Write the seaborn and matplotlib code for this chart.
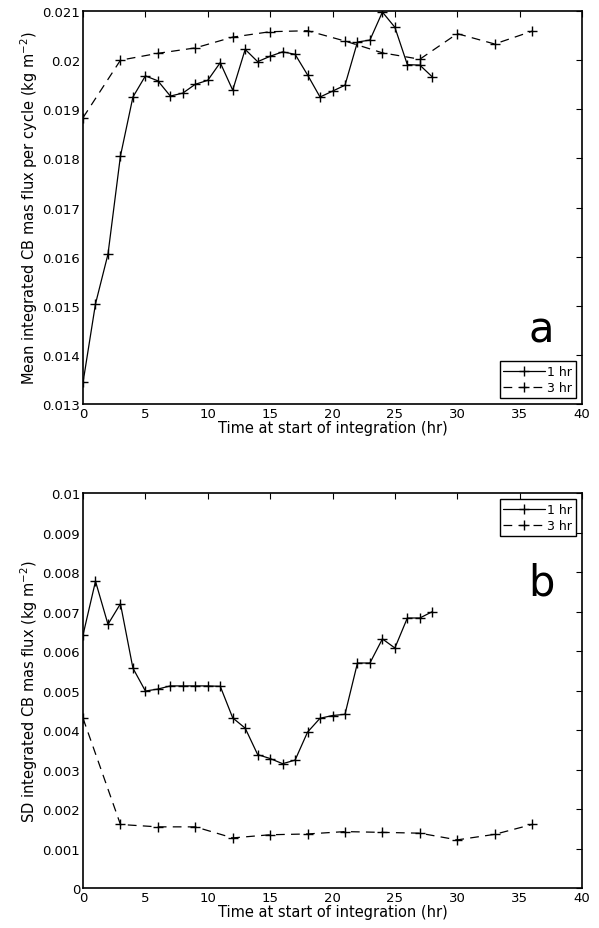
import matplotlib
matplotlib.use("Agg")
import matplotlib.pyplot as plt
import seaborn as sns
import pandas as pd
import numpy as np

# data
hours_1hr = list(range(29))
mean_1hr = [0.01344, 0.01504, 0.01605, 0.01805, 0.01925, 0.01968, 0.01958, 0.01927,
            0.01933, 0.01951, 0.01959, 0.01995, 0.01939, 0.02022, 0.01997, 0.02008,
            0.02017, 0.02012, 0.01970, 0.01925, 0.01937, 0.01949, 0.02037, 0.02041,
            0.02098, 0.02067, 0.01991, 0.01990, 0.01966]
sd_1hr = [0.00641, 0.00777, 0.00668, 0.00720, 0.00557, 0.00499, 0.00504, 0.00512,
          0.00512, 0.00512, 0.00512, 0.00511, 0.00431, 0.00405, 0.00338, 0.00328,
          0.00315, 0.00324, 0.00395, 0.00430, 0.00437, 0.00440, 0.00570, 0.00570,
          0.00631, 0.00608, 0.00684, 0.00684, 0.00700]

hours_3hr = [0, 3, 6, 9, 12, 15, 18, 21, 24, 27, 30, 33, 36]
mean_3hr = [0.01883, 0.02000, 0.02014, 0.02025, 0.02047, 0.02058, 0.02060, 0.02039,
            0.02015, 0.02002, 0.02054, 0.02033, 0.02059]
sd_3hr = [0.00430, 0.00161, 0.00155, 0.00155, 0.00127, 0.00135, 0.00137, 0.00143,
          0.00141, 0.00139, 0.00122, 0.00136, 0.00161]

xticks = [0, 5, 10, 15, 20, 25, 30, 35, 40]
yticks_a = [0.013, 0.014, 0.015, 0.016, 0.017, 0.018, 0.019, 0.020, 0.021]
ylabels_a = ['0.013', '0.014', '0.015', '0.016', '0.017', '0.018', '0.019', '0.02', '0.021']
yticks_b = [0.0, 0.001, 0.002, 0.003, 0.004, 0.005, 0.006, 0.007, 0.008, 0.009, 0.010]
ylabels_b = ['0', '0.001', '0.002', '0.003', '0.004', '0.005', '0.006', '0.007', '0.008', '0.009', '0.01']

sns.set_style("white")
plt.rcParams['font.family'] = ['DejaVu Sans']
plt.rcParams['mathtext.default'] = 'regular'
plt.rcParams['text.color'] = 'k'
plt.rcParams['axes.labelcolor'] = 'k'
plt.rcParams['xtick.color'] = 'k'
plt.rcParams['ytick.color'] = 'k'
plt.rcParams['lines.dashed_pattern'] = [7, 5]

fig = plt.figure(figsize=(5.99, 9.29), dpi=100)
ax1 = fig.add_axes([0.1386, 0.564, 0.833, 0.423])
ax2 = fig.add_axes([0.1386, 0.043, 0.833, 0.425])

df1 = pd.DataFrame({'t': hours_1hr, 'mean': mean_1hr, 'sd': sd_1hr})
df3 = pd.DataFrame({'t': hours_3hr, 'mean': mean_3hr, 'sd': sd_3hr})


def draw(ax, col, yticks, ylabels, ylim, ylabel, letter, letter_y, legend_loc):
    kw = dict(color='k', marker='+', markersize=7, markeredgewidth=1.0,
              markeredgecolor='k', markerfacecolor='k', linewidth=0.9)
    sns.lineplot(data=df1, x='t', y=col, ax=ax, label='1 hr', **kw)
    sns.lineplot(data=df3, x='t', y=col, ax=ax, linestyle='--', label='3 hr', **kw)
    ax.set_xlim(0, 40)
    ax.set_ylim(*ylim)
    ax.set_xticks(xticks)
    ax.set_xticklabels([str(t) for t in xticks], fontsize=9.5)
    ax.set_yticks(yticks)
    ax.set_yticklabels(ylabels, fontsize=9.5)
    ax.tick_params(direction='in', top=True, right=True, length=4, width=0.8, pad=2)
    for s in ax.spines.values():
        s.set_color('k')
        s.set_linewidth(1.2)
    ax.set_xlabel('Time at start of integration (hr)', fontsize=10.5, labelpad=0)
    ax.set_ylabel(ylabel, fontsize=10.5, labelpad=2)
    ax.text(0.918, letter_y, letter, transform=ax.transAxes, fontsize=30,
            ha='center', va='center')
    leg = ax.legend(loc=legend_loc, fontsize=9, handlelength=3.3, borderpad=0.3,
                    labelspacing=0.25, handletextpad=0.2, borderaxespad=0.5,
                    fancybox=False, framealpha=1)
    leg.get_frame().set_edgecolor('k')
    leg.get_frame().set_linewidth(1.0)


draw(ax1, 'mean', yticks_a, ylabels_a, (0.013, 0.021),
     'Mean integrated CB mas flux per cycle (kg m$^{-2}$)', 'a', 0.19, 'lower right')
draw(ax2, 'sd', yticks_b, ylabels_b, (0.0, 0.010),
     'SD integrated CB mas flux (kg m$^{-2}$)', 'b', 0.775, 'upper right')

fig.savefig('out.png', dpi=100)
